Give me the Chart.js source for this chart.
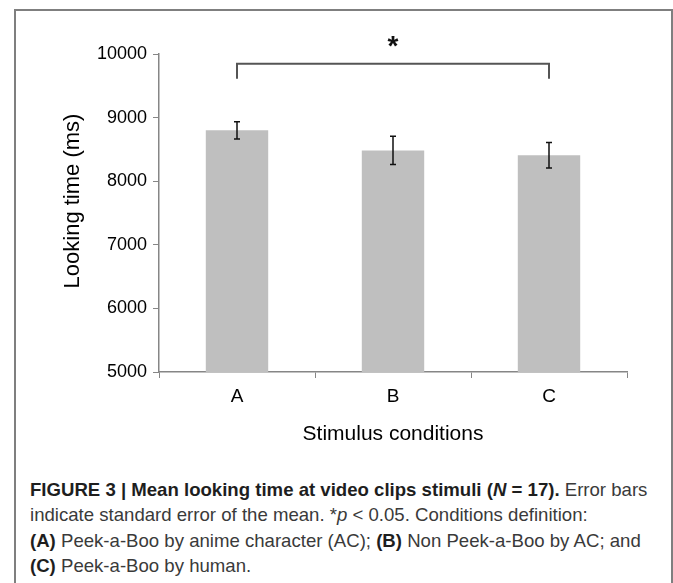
<!DOCTYPE html>
<html>
<head>
<meta charset="utf-8">
<script src="https://cdn.jsdelivr.net/npm/chart.js@4.4.1/dist/chart.umd.min.js"></script>
<style>
  body { margin: 0; background: #fff; width: 673px; height: 583px; overflow: hidden; position: relative;
         font-family: 'Liberation Sans', Arial, sans-serif; }
  #frame { position: absolute; left: 14px; top: 9px; width: 655px; height: 600px;
           border: 2px solid #7f7f7f; border-bottom: none; }
  #chart-box { position: absolute; left: 0; top: 0; width: 673px; height: 460px; }
  #caption { position: absolute; left: 30px; top: 477px; font-size: 18.6px; line-height: 25.3px;
             color: #3a3a3a; white-space: nowrap; }
  #caption b { color: #1e1e1e; }
</style>
</head>
<body>
<div id="frame"></div>
<div id="chart-box"><canvas id="bar-graph"></canvas></div>
<div id="caption">
  <b>FIGURE 3 | Mean looking time at video clips stimuli (<i>N</i> = 17).</b> Error bars<br>
  indicate standard error of the mean. *<i>p</i> &lt; 0.05. Conditions definition:<br>
  <b>(A)</b> Peek-a-Boo by anime character (AC); <b>(B)</b> Non Peek-a-Boo by AC; and<br>
  <b>(C)</b> Peek-a-Boo by human.
</div>
<script>
// Data
const conditions = ['A', 'B', 'C'];
const meanLooking = [8800, 8484, 8407];   // mean looking time (ms)
const stdError = [136, 222, 200];         // SEM
const yTicks = [5000, 6000, 7000, 8000, 9000, 10000];

// significance bracket between A and C
const bracketPair = ['A', 'C'];
const bracketLevel = 9846;
const bracketTip = 9610;
const starLevel = 10190;

const yTitle = 'Looking time (ms)';

Chart.defaults.font.family = "'Liberation Sans', Arial, sans-serif";

// Draw error bars, the significance bracket and the y title
const errorBarPlugin = {
    id: 'errorBars',
    afterDatasetsDraw(chart) {
        const { ctx, scales: { x, y } } = chart;
        ctx.save();
        ctx.strokeStyle = '#111';
        ctx.lineWidth = 1.5;
        meanLooking.forEach((m, i) => {
            const cx = x.getPixelForValue(i);
            const top = y.getPixelForValue(m + stdError[i]);
            const bot = y.getPixelForValue(m - stdError[i]);
            ctx.beginPath();
            ctx.moveTo(cx, top); ctx.lineTo(cx, bot);
            ctx.moveTo(cx - 3, top); ctx.lineTo(cx + 3, top);
            ctx.moveTo(cx - 3, bot); ctx.lineTo(cx + 3, bot);
            ctx.stroke();
        });

        // bracket
        const x1 = x.getPixelForValue(conditions.indexOf(bracketPair[0]));
        const x2 = x.getPixelForValue(conditions.indexOf(bracketPair[1]));
        const yl = y.getPixelForValue(bracketLevel);
        const yt = y.getPixelForValue(bracketTip);
        ctx.strokeStyle = '#555';
        ctx.lineWidth = 2;
        ctx.beginPath();
        ctx.moveTo(x1, yt); ctx.lineTo(x1, yl); ctx.lineTo(x2, yl); ctx.lineTo(x2, yt);
        ctx.stroke();

        ctx.fillStyle = '#111';
        ctx.font = "bold 28px 'Liberation Sans', Arial, sans-serif";
        ctx.textAlign = 'center';
        ctx.textBaseline = 'middle';
        ctx.fillText('*', (x1 + x2) / 2, y.getPixelForValue(starLevel) + 5);

        // y axis title, sitting a little above the axis middle like the original
        ctx.save();
        ctx.translate(73, 201);
        ctx.rotate(-Math.PI / 2);
        ctx.font = "22px 'Liberation Sans', Arial, sans-serif";
        ctx.fillStyle = '#000';
        ctx.fillText(yTitle, 0, 0);
        ctx.restore();
        ctx.restore();
    }
};

const ctx = document.getElementById('bar-graph').getContext('2d');
new Chart(ctx, {
    type: 'bar',
    data: {
        labels: conditions,
        datasets: [{
            label: 'Looking time',
            data: meanLooking,
            backgroundColor: '#bfbfbf',
            borderWidth: 0,
            barPercentage: 0.4,
            categoryPercentage: 1.0
        }]
    },
    options: {
        responsive: true,
        maintainAspectRatio: false,
        animation: false,
        layout: { padding: { left: 0, right: 46, top: 54, bottom: 0 } },
        plugins: { legend: { display: false }, tooltip: { enabled: false } },
        scales: {
            x: {
                grid: { drawOnChartArea: false, drawTicks: true, tickLength: 6, color: '#868686', offset: true },
                border: { color: '#868686', width: 1.5 },
                ticks: { color: '#000', font: { size: 19 }, padding: 7 },
                title: { display: true, text: 'Stimulus conditions', color: '#000',
                         font: { size: 21 }, padding: { top: 0, bottom: 13 } },
                afterFit(scale) { scale.height = 88; }
            },
            y: {
                min: yTicks[0],
                max: yTicks[yTicks.length - 1],
                afterBuildTicks(scale) { scale.ticks = yTicks.map(v => ({ value: v })); },
                grid: { drawOnChartArea: false, drawTicks: true, tickLength: 6, color: '#868686' },
                border: { color: '#868686', width: 1.5 },
                ticks: { color: '#000', font: { size: 18 }, padding: 6, callback: v => String(v) },
                afterFit(scale) { scale.width = 159; }
            }
        }
    },
    plugins: [errorBarPlugin]
});
</script>
</body>
</html>
